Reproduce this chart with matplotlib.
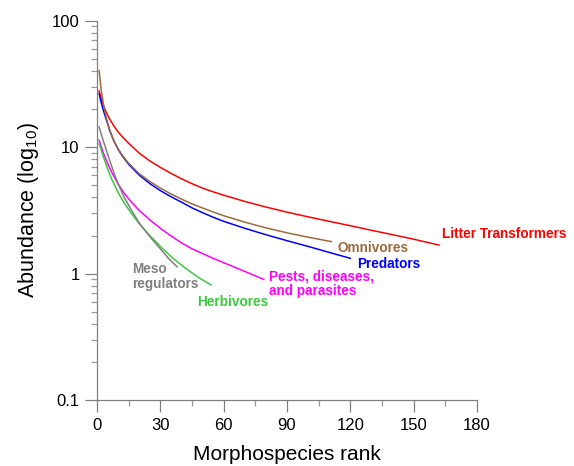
import matplotlib
matplotlib.use("Agg")
import matplotlib.pyplot as plt
from matplotlib.ticker import FixedLocator, FixedFormatter, MultipleLocator, LogLocator, NullFormatter

plt.rcParams['font.family'] = ['Liberation Sans', 'DejaVu Sans']

# ranks and abundances
litter_rank = [1, 2, 3, 4, 5, 6, 8, 10, 12, 15, 20, 25, 30, 35, 40, 45, 50, 55, 60,
               70, 80, 90, 100, 110, 120, 130, 140, 150, 162]
litter_val = [27.8, 24.1, 21.48, 19.5, 17.95, 16.67, 14.69, 13.18, 12.08, 10.72, 8.97, 7.78, 6.92, 6.21, 5.62,
              5.14, 4.74, 4.43, 4.17, 3.72, 3.36, 3.06, 2.81, 2.59, 2.39, 2.20, 2.03, 1.87, 1.68]

omni_rank = [1, 2, 3, 4, 5, 6, 8, 10, 12, 15, 20, 25, 30, 35, 40, 45, 50, 55, 60, 70, 80, 90, 100, 111]
omni_val = [40.36, 28.18, 22.13, 18.28, 15.56, 13.65, 11.17, 9.66, 8.61, 7.45, 6.17, 5.35, 4.74, 4.27,
            3.88, 3.56, 3.30, 3.07, 2.87, 2.55, 2.30, 2.10, 1.94, 1.79]

pred_rank = [1, 2, 3, 4, 5, 6, 8, 10, 12, 15, 20, 25, 30, 35, 40, 45, 50, 55, 60, 70, 80, 90, 100, 110, 120]
pred_val = [26.49, 22.39, 19.59, 17.30, 15.42, 13.55, 11.22, 9.62, 8.51, 7.31, 6.01, 5.15, 4.53, 4.06,
            3.67, 3.31, 3.03, 2.79, 2.59, 2.28, 2.03, 1.82, 1.64, 1.47, 1.32]

pest_rank = [1, 2, 3, 4, 5, 7, 10, 13, 16, 20, 25, 30, 35, 40, 45, 50, 55, 60, 70, 79]
pest_val = [11.35, 10.07, 9.02, 8.17, 7.45, 6.31, 5.11, 4.29, 3.72, 3.16, 2.66, 2.28, 1.99, 1.75,
            1.57, 1.44, 1.32, 1.22, 1.04, 0.90]

meso_rank = [1, 2, 3, 4, 6, 8, 10, 13, 16, 20, 25, 30, 34, 38]
meso_val = [14.45, 12.68, 11.22, 9.95, 7.87, 6.27, 5.13, 3.98, 3.24, 2.51, 1.96, 1.57, 1.31, 1.13]

herb_rank = [1, 2, 3, 5, 7, 10, 13, 16, 20, 25, 30, 36, 42, 48, 54]
herb_val = [10.72, 9.46, 8.39, 6.76, 5.56, 4.37, 3.59, 3.04, 2.48, 2.00, 1.64, 1.32, 1.10, 0.933, 0.813]

x_ticks = [0, 30, 60, 90, 120, 150, 180]
y_ticks = [0.1, 1, 10, 100]
y_tick_labels = ["0.1", "1", "10", "100"]

red = "#ff0000"
brown = "#9c6b3c"
blue = "#0000ff"
magenta = "#ff00ff"
gray = "#808080"
green = "#3cc83c"

fig = plt.figure(figsize=(5.74, 4.66), dpi=100)
ax = fig.add_axes([0.169, 0.1416, 0.662, 0.814])

lw = 1.1
ax.plot(litter_rank, litter_val, color=red, lw=lw)
ax.plot(pred_rank, pred_val, color=blue, lw=lw)
ax.plot(omni_rank, omni_val, color=brown, lw=lw)
ax.plot(pest_rank, pest_val, color=magenta, lw=lw)
ax.plot(herb_rank, herb_val, color=green, lw=lw)
ax.plot(meso_rank, meso_val, color=gray, lw=lw)

ax.set_yscale("log")
ax.set_xlim(0, 180)
ax.set_ylim(0.1, 100)

ax.xaxis.set_major_locator(FixedLocator(x_ticks))
ax.xaxis.set_minor_locator(MultipleLocator(15))
ax.yaxis.set_major_locator(FixedLocator(y_ticks))
ax.yaxis.set_major_formatter(FixedFormatter(y_tick_labels))
ax.yaxis.set_minor_locator(LogLocator(base=10, subs=range(2, 10)))
ax.yaxis.set_minor_formatter(NullFormatter())

for s in ["top", "right"]:
    ax.spines[s].set_visible(False)
for s in ["left", "bottom"]:
    ax.spines[s].set_color(gray)
    ax.spines[s].set_linewidth(0.9)

ax.tick_params(which="major", length=8.6, width=0.9, color=gray, labelsize=12, pad=4)
ax.tick_params(which="minor", length=4.3, width=0.9, color="#999999")

ax.set_xlabel("Morphospecies rank", fontsize=15, labelpad=9)
ax.set_ylabel(r"Abundance (log$_{\mathregular{10}}$)", fontsize=15.5, labelpad=8)

fs = 9.8
ax.text(163.4, 2.07, "Litter Transformers", color=red, fontsize=fs, fontweight="bold", ha="left", va="center")
ax.text(113.7, 1.59, "Omnivores", color=brown, fontsize=fs, fontweight="bold", ha="left", va="center")
ax.text(123.3, 1.19, "Predators", color=blue, fontsize=fs, fontweight="bold", ha="left", va="center")
ax.text(81.5, 0.827, "Pests, diseases,\nand parasites", color=magenta, fontsize=fs, fontweight="bold",
        ha="left", va="center", linespacing=1.05)
ax.text(16.4, 0.947, "Meso\nregulators", color=gray, fontsize=fs, fontweight="bold",
        ha="left", va="center", linespacing=1.05)
ax.text(47.5, 0.594, "Herbivores", color=green, fontsize=fs, fontweight="bold", ha="left", va="center")

fig.savefig("out.png", dpi=100)
